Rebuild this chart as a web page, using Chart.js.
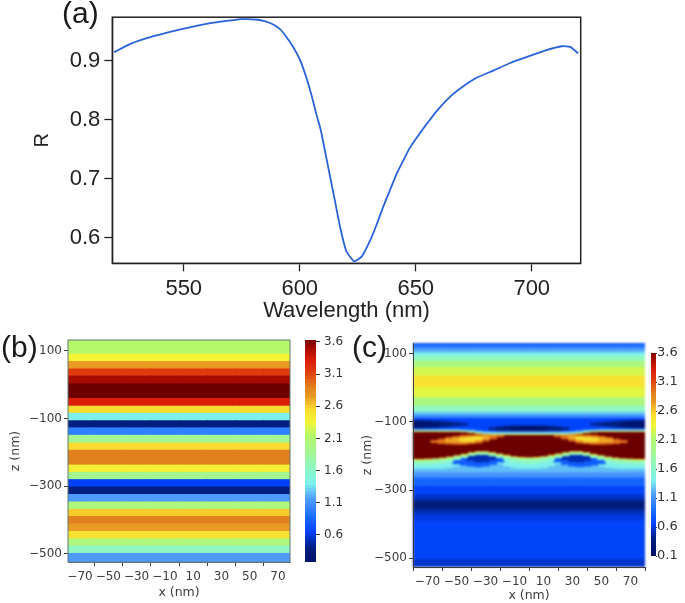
<!DOCTYPE html>
<html>
<head>
<meta charset="utf-8">
<script src="https://cdn.jsdelivr.net/npm/chart.js@4"></script>
<style>
  html, body { margin: 0; padding: 0; background: #fff; }
  body { width: 685px; height: 603px; position: relative; overflow: hidden; }
  canvas { position: absolute; }
  #chartA { filter: blur(0.4px); }
  #chartB, #barB, #barC, #axesC { filter: blur(0.5px); }
  #chartC { filter: blur(1.1px); }
  .tag { position: absolute; font-family: "Liberation Sans", sans-serif; font-size: 30px; color: #1a1a1a; }
</style>
</head>
<body>
<canvas id="chartA" width="685" height="325" style="left:0;top:0"></canvas>
<canvas id="chartB" width="300" height="278" style="left:0;top:325px"></canvas>
<canvas id="barB" width="50" height="278" style="left:300px;top:325px"></canvas>
<canvas id="chartC" width="300" height="278" style="left:350px;top:325px"></canvas>
<canvas id="axesC" width="300" height="278" style="left:350px;top:325px"></canvas>
<canvas id="barC" width="45" height="278" style="left:640px;top:325px"></canvas>
<div class="tag" style="left:62px;top:-4px">(a)</div>
<div class="tag" style="left:1px;top:330px">(b)</div>
<div class="tag" style="left:352px;top:330px">(c)</div>
<script>
// panel (a) reflectance curve
const wavelength = [520, 527, 537, 550, 561, 570.5, 575, 582, 587.5, 591.5, 594.4, 597.3, 600.2, 603, 605.2, 607.4, 609.1, 612, 615, 617.3, 620, 623.4, 626.7, 630.3, 633.2, 636, 638.9, 641.8, 644.6, 647.5, 651.9, 654.5, 659, 665, 670.5, 676, 683.6, 691, 699.5, 706, 713, 716.6, 720]
const reflectance = [0.915, 0.929, 0.942, 0.955, 0.964, 0.969, 0.971, 0.970, 0.964, 0.954, 0.940, 0.923, 0.901, 0.870, 0.840, 0.806, 0.782, 0.725, 0.666, 0.620, 0.578, 0.560, 0.568, 0.595, 0.623, 0.653, 0.681, 0.709, 0.731, 0.753, 0.778, 0.792, 0.815, 0.840, 0.857, 0.871, 0.884, 0.897, 0.909, 0.918, 0.925, 0.924, 0.913]
const wavelengthTicks = [550, 600, 650, 700]
const reflectanceTicks = [0.6, 0.7, 0.8, 0.9]

// shared tick labels of the field maps
const xTicks = [-70, -50, -30, -10, 10, 30, 50, 70]
const zTicks = [100, -100, -300, -500]
const fieldTicks = [0.1, 0.6, 1.1, 1.6, 2.1, 2.6, 3.1, 3.6]

// panel (b) flat bands: edges in nm from the top, one value per band
const bColumns = [-70, -50, -30, -10, 10, 30, 50, 70]
const bEdges = [133, 90, 68, 46, 25, 2, -41, -64, -85, -107, -128, -150, -173, -194, -238, -260, -281, -303, -325, -347, -369, -390, -412, -434, -456, -477, -499, -522]
const bValues = [2.1, 2.3, 2.7, 3.1, 3.45, 3.6, 3.25, 2.5, 1.35, 0.35, 0.95, 1.85, 2.5, 2.85, 2.35, 1.85, 0.6, 0.35, 1.1, 2.0, 2.55, 2.85, 2.7, 2.45, 2.0, 1.6, 1.1]

// panel (c) flat rows behind the structure
const cColumns = [-80, -75, -70, -65, -60, -55, -50, -45, -40, -35, -30, -25, -20, -15, -10, -5, 0, 5, 10, 15, 20, 25, 30, 35, 40, 45, 50, 55, 60, 65, 70, 75, 80]
const cRowEdges = [133, 122.5, 113, 103, 93, 78.5, 59, 34, 0, -29, -54, -71, -80, -90, -130, -250, -265, -290, -315, -329, -336, -353, -362, -375, -392, -505, -527]
const cRowValues = [0.75, 0.95, 1.15, 1.35, 1.6, 1.95, 2.2, 2.45, 2.25, 1.95, 1.6, 1.25, 1.0, 0.62, 1.2, 1.05, 0.8, 0.62, 0.5, 0.4, 0.27, 0.38, 0.48, 0.55, 0.62, 0.5]

// panel (c) layers over those rows, z in nm per column (null = layer absent)
const hotTop = [-131, -131, -131, -131, -131, -131, -131, -132, -134, -137, -139, -140, -140, -140, -140, -140, -140, -140, -140, -140, -140, -140, -139, -137, -134, -132, -131, -131, -131, -131, -131, -131, -131]
const hotBottom = [-207, -207, -206, -205, -203, -200, -196, -192, -187, -184, -184, -187, -191, -195, -199, -201, -202, -201, -199, -195, -191, -187, -184, -184, -187, -192, -196, -200, -203, -205, -206, -207, -207]
const belowCyan = [-236, -236, -236, -236, -235, -233, -229, -222, -207, -200, -200, -210, -222, -229, -234, -236, -236, -236, -234, -229, -222, -210, -200, -200, -207, -222, -229, -233, -235, -236, -236, -236, -236]
const belowMint = [-224, -224, -223, -222, -220, -216, -210, -204, -198, -195, -195, -199, -204, -210, -217, -220, -222, -220, -217, -210, -204, -199, -195, -195, -198, -204, -210, -216, -220, -222, -223, -224, -224]
const belowGreen = [-213, -213, -212, -211, -209, -206, -202, -198, -193, -190, -190, -193, -197, -201, -205, -207, -208, -207, -205, -201, -197, -193, -190, -190, -193, -198, -202, -206, -209, -211, -212, -213, -213]
const belowLine = [-210, -210, -209, -208, -206, -203, -199, -195, -190, -187, -187, -190, -194, -198, -202, -204, -205, -204, -202, -198, -194, -190, -187, -187, -190, -195, -199, -203, -206, -208, -209, -210, -210]
const aboveBlue = [-122, -122, -122, -122, -122, -122, -122, -123, -124, -126, -128, -129, -129, -129, -129, -129, -129, -129, -129, -129, -129, -129, -128, -126, -124, -123, -122, -122, -122, -122, -122, -122, -122]
const aboveCyan = [-126, -126, -126, -126, -126, -126, -126, -127, -128, -131, -133, -134, -134, -134, -134, -134, -134, -134, -134, -134, -134, -134, -133, -131, -128, -127, -126, -126, -126, -126, -126, -126, -126]
const aboveLine = [-129, -129, -129, -129, -129, -129, -129, -130, -132, -135, -137, -138, -138, -138, -138, -138, -138, -138, -138, -138, -138, -138, -137, -135, -132, -130, -129, -129, -129, -129, -129, -129, -129]
const darkTop = [-96, -96, -97, -98, -99, -101, -103, -105, null, null, null, -118, -115, -113, -112, -112, -112, -112, -112, -113, -115, -118, null, null, null, -105, -103, -101, -99, -98, -97, -96, -96]
const darkBottom = [-118, -118, -117, -116, -114, -112, -110, -108, null, null, null, -122, -126, -127, -128, -128, -128, -128, -128, -127, -126, -122, null, null, null, -108, -110, -112, -114, -116, -117, -118, -118]
const deepTop = [-101, -102, -103, -105, null, null, null, null, null, null, null, null, null, null, -118, -116, -116, -116, -118, null, null, null, null, null, null, null, null, null, null, -105, -103, -102, -101]
const deepBottom = [-112, -112, -111, -109, null, null, null, null, null, null, null, null, null, null, -124, -126, -126, -126, -124, null, null, null, null, null, null, null, null, null, null, -109, -111, -112, -112]
const blobTop = [null, null, null, null, null, null, -207, -197, -192, -192, -192, -197, -207, null, null, null, null, null, null, null, -207, -197, -192, -192, -192, -197, -207, null, null, null, null, null, null]
const blobBottom = [null, null, null, null, null, null, -222, -226, -229, -231, -229, -224, -217, null, null, null, null, null, null, null, -217, -224, -229, -231, -229, -226, -222, null, null, null, null, null, null]
const coreTop = [null, null, null, null, null, null, null, null, -199, -195, -195, -202, null, null, null, null, null, null, null, null, null, -202, -195, -195, -199, null, null, null, null, null, null, null, null]
const coreBottom = [null, null, null, null, null, null, null, null, -212, -217, -215, -210, null, null, null, null, null, null, null, null, null, -210, -215, -217, -212, null, null, null, null, null, null, null, null]
const lensTop = [null, null, null, -155, -151, -146, -143, -140, -139, -139, -139, -140, -141, null, null, null, null, null, null, null, -141, -140, -139, -139, -139, -140, -143, -146, -151, -155, null, null, null]
const lensBottom = [null, null, null, -160, -163, -164, -165, -165, -163, -161, -155, -149, -143, null, null, null, null, null, null, null, -143, -149, -155, -161, -163, -165, -165, -164, -163, -160, null, null, null]
const amberTop = [null, null, null, null, null, -152, -148, -145, -143, -142, -141, null, null, null, null, null, null, null, null, null, null, null, -141, -142, -143, -145, -148, -152, null, null, null, null, null]
const amberBottom = [null, null, null, null, null, -158, -158, -160, -159, -155, -149, null, null, null, null, null, null, null, null, null, null, null, -149, -155, -159, -160, -158, -158, null, null, null, null, null]
const paleTop = [null, null, null, null, null, null, null, -149, -147, -145, null, null, null, null, null, null, null, null, null, null, null, null, null, -145, -147, -149, null, null, null, null, null, null, null]
const paleBottom = [null, null, null, null, null, null, null, -155, -155, -151, null, null, null, null, null, null, null, null, null, null, null, null, null, -151, -155, -155, null, null, null, null, null, null, null]

// colour scale taken from the colour bars of the figure
const scaleStops = [0.10, 0.35, 0.60, 0.85, 1.10, 1.35, 1.60, 1.85, 2.10, 2.30, 2.50, 2.70, 2.85, 3.10, 3.25, 3.45, 3.60]
const scaleColors = ['#00106a', '#001f80', '#0040f8', '#1c70ff', '#4f9aff', '#7df0ec', '#90f8c0', '#a5f590', '#b5f96b', '#f2f535', '#fadc30', '#e89a22', '#e2801e', '#e03a0e', '#dc1e08', '#a80c00', '#6c0000']

function fieldColor(v) {
  let i = 0
  while (i < scaleStops.length - 2 && v > scaleStops[i + 1]) i++
  const t = Math.min(1, Math.max(0, (v - scaleStops[i]) / (scaleStops[i + 1] - scaleStops[i])))
  const a = scaleColors[i], b = scaleColors[i + 1]
  const part = (s) => {
    const from = parseInt(a.substr(s, 2), 16)
    const to = parseInt(b.substr(s, 2), 16)
    return Math.round(from + (to - from) * t)
  }
  return `rgb(${part(1)},${part(3)},${part(5)})`
}

// one floating bar per column, upper and lower are nm arrays
function layer(value, columns, upper, lower) {
  const data = []
  columns.forEach((x, i) => {
    if (upper[i] !== null) data.push({ x: x, y: [lower[i], upper[i]] })
  })
  return {
    data: data,
    backgroundColor: fieldColor(value),
    grouped: false,
    barPercentage: 1,
    categoryPercentage: 1,
    borderWidth: 0,
    inflateAmount: 0.6
  }
}

function rowLayers(columns, edges, values) {
  return values.map((v, i) => {
    return layer(v, columns, columns.map(() => edges[i]), columns.map(() => edges[i + 1]))
  })
}

const framePlugin = {
  id: 'frame',
  afterDraw(chart, args, opts) {
    if (!opts.color) return
    const { ctx, chartArea: a } = chart
    ctx.save()
    ctx.strokeStyle = opts.color
    ctx.lineWidth = opts.width
    ctx.strokeRect(a.left, a.top, a.right - a.left, a.bottom - a.top)
    ctx.restore()
  }
}

function axis(min, max, ticks, style) {
  return {
    type: 'linear',
    min: min,
    max: max,
    offset: false,
    position: style.position,
    afterBuildTicks(scale) { scale.ticks = ticks.map(v => ({ value: v })) },
    afterFit(scale) {
      if (style.size === undefined) return
      if (scale.isHorizontal()) scale.height = style.size
      else scale.width = style.size
    },
    grid: { display: true, drawOnChartArea: false, drawTicks: true, tickLength: style.tickLength, tickColor: style.color, tickWidth: style.tickWidth || 1 },
    border: { display: style.border !== false, color: style.frame || style.color, width: style.tickWidth || 1 },
    title: style.title ? { display: true, text: style.title, color: style.color, font: { family: style.family, size: style.titleSize }, padding: style.titlePadding } : { display: false },
    ticks: {
      autoSkip: false,
      maxRotation: 0,
      color: style.color,
      padding: style.padding,
      font: { family: style.family, size: style.fontSize },
      callback: style.label
    }
  }
}

const minusLabel = v => String(v).replace('-', '\u2212')

function baseOptions(padding, scales, frame) {
  return {
    responsive: false,
    animation: false,
    events: [],
    layout: { padding: padding },
    plugins: { legend: { display: false }, tooltip: { enabled: false }, frame: frame || {} },
    scales: scales
  }
}

// panel (a)
new Chart(document.getElementById('chartA'), {
  type: 'line',
  data: {
    datasets: [{
      data: wavelength.map((w, i) => ({ x: w, y: reflectance[i] })),
      borderColor: '#2a62dc',
      borderWidth: 1.8,
      pointRadius: 0,
      tension: 0.15
    }]
  },
  options: baseOptions({ left: 30, right: 104.3, top: 12.7, bottom: 1 }, {
    x: axis(519.2, 721.1, wavelengthTicks, { position: 'bottom', size: 60.7, color: '#222', tickLength: 8, tickWidth: 1.3, padding: 4, family: 'Liberation Sans', fontSize: 22, title: 'Wavelength (nm)', titleSize: 22, titlePadding: 0, label: v => String(v) }),
    y: axis(0.5567, 0.9743, reflectanceTicks, { position: 'left', size: 82.3, color: '#222', tickLength: 8, tickWidth: 1.3, padding: 4, family: 'Liberation Sans', fontSize: 22, title: 'R', titleSize: 20, titlePadding: 0, label: v => v.toFixed(1) })
  }, { color: '#222', width: 1.5 }),
  plugins: [framePlugin]
})

function fieldChart(id, datasets, padding, xMin, xMax, zMin, zMax, frame, ySize, xSize, ink) {
  new Chart(document.getElementById(id), {
    type: 'bar',
    data: { datasets: datasets.slice().reverse() },
    options: baseOptions(padding, {
      x: axis(xMin, xMax, xTicks, { position: 'bottom', size: xSize, color: ink, frame: frame || ink, tickLength: 4, padding: 4, family: 'DejaVu Sans', fontSize: 12, title: 'x (nm)', titleSize: 12.5, titlePadding: 0, label: minusLabel }),
      y: axis(zMin, zMax, zTicks, { position: 'left', size: ySize, color: ink, frame: frame || ink, tickLength: 4, padding: 2, family: 'DejaVu Sans', fontSize: 12, title: 'z (nm)', titleSize: 12.5, titlePadding: 0, label: minusLabel })
    }, { color: frame, width: 1 }),
    plugins: [framePlugin]
  })
}

function colorBar(id, ticks, zMin, zMax, padding, size, fontSize, tickLength, tickPadding) {
  const datasets = []
  for (let v = 0.1; v < 3.65; v += 0.05) {
    datasets.push({ data: [[v, v + 0.07]], backgroundColor: fieldColor(v), grouped: false, barPercentage: 1, categoryPercentage: 1 })
  }
  new Chart(document.getElementById(id), {
    type: 'bar',
    data: { labels: [''], datasets: datasets },
    options: baseOptions(padding, {
      x: { display: false },
      y: axis(zMin, zMax, ticks, { position: 'right', size: size, color: '#333', border: false, tickLength: tickLength, padding: tickPadding, family: 'DejaVu Sans', fontSize: fontSize, label: v => v.toFixed(1) })
    })
  })
}

// panel (b)
fieldChart('chartB', rowLayers(bColumns, bEdges, bValues),
  { left: 8, right: 10, top: 15, bottom: 3 }, -78.5, 78.5, -524, 132, '#607878', 60, 38, '#3c3c3c')
colorBar('barB', fieldTicks.slice(1), 0.18, 3.63, { left: 5, right: 0, top: 15, bottom: 41 }, 34, 12, 4, 4)

// panel (c), painted from the back to the front; the axes sit on their own canvas above the softened field
const cLayers = rowLayers(cColumns, cRowEdges, cRowValues).concat([
  layer(1.35, cColumns, hotTop, belowCyan),
  layer(0.75, cColumns, blobTop, blobBottom),
  layer(0.45, cColumns, coreTop, coreBottom),
  layer(1.6, cColumns, hotTop, belowMint),
  layer(1.95, cColumns, hotTop, belowGreen),
  layer(2.5, cColumns, hotTop, belowLine),
  layer(0.35, cColumns, darkTop, darkBottom),
  layer(0.15, cColumns, deepTop, deepBottom),
  layer(1.1, cColumns, aboveBlue, hotBottom),
  layer(1.5, cColumns, aboveCyan, hotBottom),
  layer(2.5, cColumns, aboveLine, hotBottom),
  layer(3.6, cColumns, hotTop, hotBottom),
  layer(2.9, cColumns, lensTop, lensBottom),
  layer(2.65, cColumns, amberTop, amberBottom),
  layer(2.45, cColumns, paleTop, paleBottom)
])
const cPadding = { left: 10, right: 5, top: 18, bottom: 0 }
fieldChart('chartC', cLayers, cPadding, -80, 80, -526, 132, null, 53, 36, 'rgba(0,0,0,0)')
fieldChart('axesC', [], cPadding, -80, 80, -526, 132, null, 53, 36, '#3c3c3c')
colorBar('barC', fieldTicks, 0.1, 3.6, { left: 11, right: 0, top: 28, bottom: 47 }, 29, 13, 1, 0)
</script>
</body>
</html>
